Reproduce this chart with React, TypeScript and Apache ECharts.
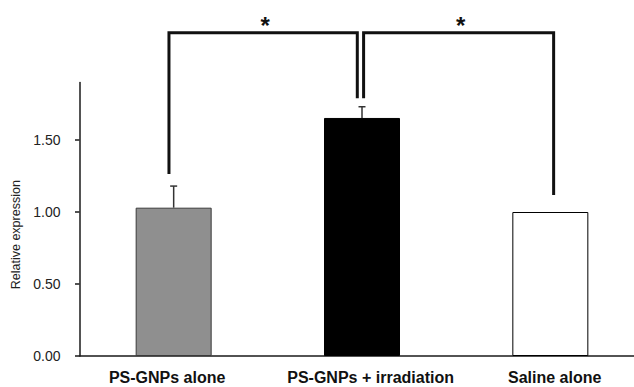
import React, { useEffect, useRef } from "react";
import * as echarts from "echarts";

const categories = ["PS-GNPs alone", "PS-GNPs + irradiation", "Saline alone"];
const values = [1.03, 1.653, 1.0];
const errors = [0.15, 0.078, 0];
const barColors = ["#8f8f8f", "#000000", "#ffffff"];
const yTicks = [0, 0.5, 1.0, 1.5];
const yName = "Relative expression";
// significance brackets: from category, to category, bottom values of both legs, top value
const brFrom = [0, 1];
const brTo = [1, 2];
const brFromY = [1.264, 1.79];
const brToY = [1.79, 1.118];
const brTopY = [2.245, 2.245];
const brLabel = ["*", "*"];

// pixel nudges (styling only)
const brFromDx = [-4.7, 1.6];
const brToDx = [-4.7, 3.3];
const labelShift = [-6.5, 8.6, 4.3];

export default function App() {
  const ref = useRef<HTMLDivElement>(null);
  useEffect(() => {
    if (!ref.current) return;
    const chart = echarts.init(ref.current, null, { renderer: "svg" });
    const rich: Record<string, any> = {};
    labelShift.forEach((d, i) => {
      rich["c" + i] = {
        fontSize: 16,
        fontWeight: "bold",
        fontFamily: "Liberation Sans, Arial, sans-serif",
        color: "#111",
        padding: d >= 0 ? [0, 0, 0, 2 * d] : [0, -2 * d, 0, 0],
      };
    });
    chart.setOption({
      animation: false,
      backgroundColor: "#ffffff",
      grid: { left: 79.5, top: 82.4, height: 273.6, width: 565, outerBoundsMode: "none", containLabel: false },
      xAxis: {
        type: "category",
        data: categories,
        axisLine: { lineStyle: { color: "#1a1a1a", width: 1.5 } },
        axisTick: { show: false },
        axisLabel: {
          interval: 0,
          margin: 13,
          formatter: (v: string, i: number) => `{c${i}|${v}}`,
          rich,
        },
      },
      yAxis: {
        type: "value",
        min: 0,
        max: 1.9,
        splitLine: { show: false },
        axisLine: { show: true, lineStyle: { color: "#1a1a1a", width: 1.5 } },
        axisTick: {
          show: true,
          inside: false,
          length: 4.5,
          customValues: yTicks,
          lineStyle: { color: "#1a1a1a", width: 1.5 },
        },
        axisLabel: {
          customValues: yTicks,
          margin: 19,
          formatter: (v: number) => v.toFixed(2),
          fontSize: 14,
          fontFamily: "Liberation Sans, Arial, sans-serif",
          color: "#222",
        },
        name: yName,
        nameLocation: "middle",
        nameRotate: 90,
        nameGap: 56,
        nameTextStyle: {
          fontSize: 12.5,
          fontFamily: "Liberation Sans, Arial, sans-serif",
          color: "#222",
          padding: [0, 31, 0, 0],
        },
      },
      series: [
        {
          type: "bar",
          barWidth: 76,
          data: values.map((v, i) => ({
            value: v,
            itemStyle: {
              color: barColors[i],
              borderColor: i === 0 ? "#3a3a3a" : "#000",
              borderWidth: 1,
            },
          })),
          z: 2,
        },
        {
          type: "custom",
          z: 3,
          data: values.map((v, i) => [i, v, errors[i]]),
          renderItem: (params: any, api: any) => {
            const idx = api.value(0);
            const v = api.value(1);
            const e = api.value(2);
            if (!e) return { type: "group", children: [] };
            const b = api.coord([idx, v]);
            const t = api.coord([idx, v + e]);
            const st = { stroke: "#333", lineWidth: 1.5 };
            return {
              type: "group",
              children: [
                { type: "line", shape: { x1: b[0], y1: b[1], x2: t[0], y2: t[1] }, style: st },
                { type: "line", shape: { x1: t[0] - 3.5, y1: t[1], x2: t[0] + 3.5, y2: t[1] }, style: st },
              ],
            };
          },
        },
        {
          type: "custom",
          z: 4,
          clip: false,
          data: brFrom.map((f, i) => [f, brTo[i], brFromY[i], brToY[i], brTopY[i], i]),
          renderItem: (params: any, api: any) => {
            const i = api.value(5);
            const p1 = api.coord([api.value(0), api.value(2)]);
            const p2 = api.coord([api.value(1), api.value(3)]);
            const pt = api.coord([api.value(0), api.value(4)]);
            const x1 = p1[0] + brFromDx[i];
            const x2 = p2[0] + brToDx[i];
            const yt = pt[1];
            return {
              type: "group",
              children: [
                {
                  type: "polyline",
                  shape: { points: [[x1, p1[1]], [x1, yt], [x2, yt], [x2, p2[1]]] },
                  style: { stroke: "#111", lineWidth: 3, fill: "none", lineJoin: "miter", lineCap: "butt" },
                },
                {
                  type: "text",
                  x: (x1 + x2) / 2 + 2,
                  y: yt - 7,
                  style: {
                    text: brLabel[i],
                    fontSize: 24,
                    fontWeight: "bold",
                    fontFamily: "Liberation Sans, Arial, sans-serif",
                    fill: "#111",
                    align: "center",
                    verticalAlign: "middle",
                  },
                },
              ],
            };
          },
        },
      ],
    });
    return () => chart.dispose();
  }, []);
  return (
    <div
      ref={ref}
      style={{ position: "fixed", left: 0, top: 0, width: 634, height: 387, overflow: "hidden", background: "#fff" }}
    />
  );
}
